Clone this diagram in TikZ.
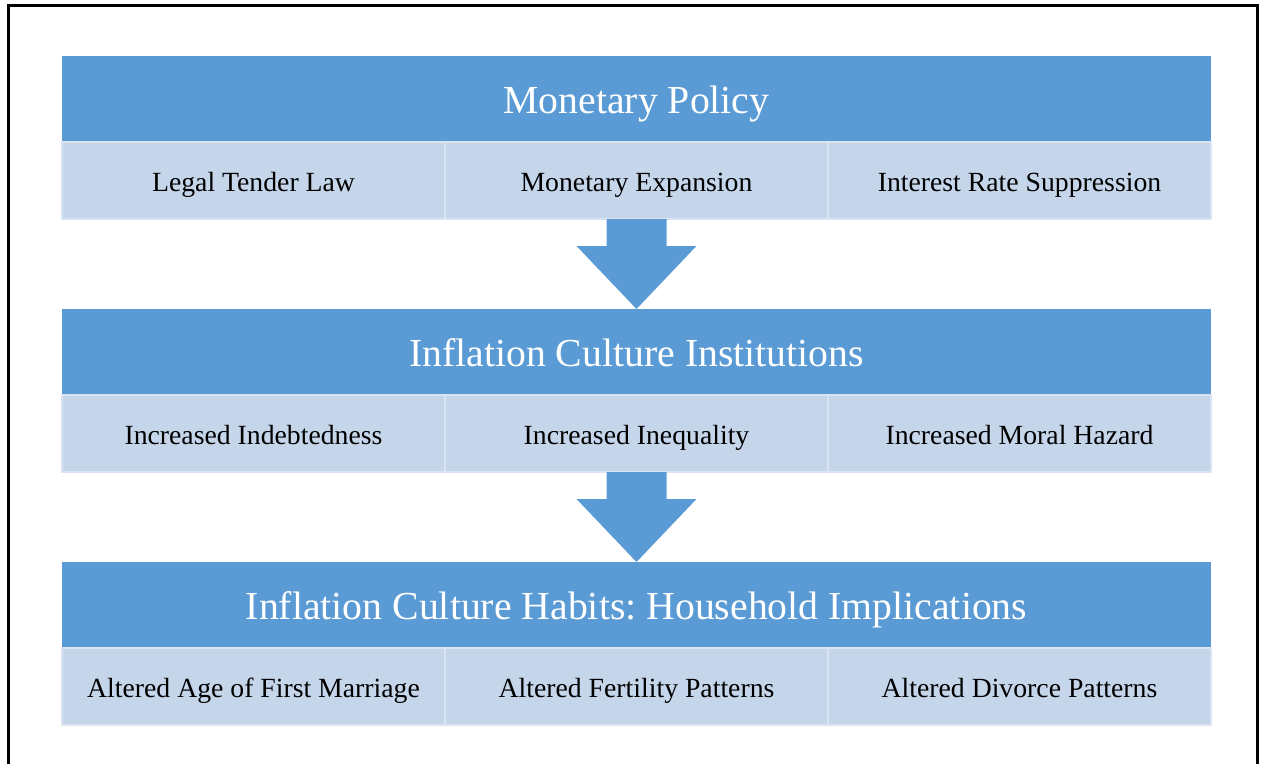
\documentclass[tikz,border=0pt]{standalone}
\usepackage{fontspec}
\setmainfont{Liberation Serif}
\usetikzlibrary{positioning,calc}
\frenchspacing

\definecolor{headcolor}{RGB}{91,155,213}
\definecolor{cellcolor}{RGB}{197,214,235}
\definecolor{celledge}{RGB}{218,228,242}

\begin{document}
\begin{tikzpicture}[x=0.75pt, y=-0.75pt, outer sep=0pt,
    head/.style = {fill=headcolor, text=white, minimum width=861.75pt, minimum height=64.5pt, inner sep=0pt, text height=27.7pt, text depth=6.3pt, font=\fontsize{29.8}{34}\selectfont},
    cell/.style = {fill=cellcolor, draw=celledge, line width=1.2pt, minimum width=287.25pt, minimum height=57.75pt, inner sep=0pt, text height=20pt, text depth=4.2pt, font=\fontsize{20.8}{24}\selectfont},
    blockarrow/.style = {fill=headcolor}]
		\useasboundingbox (0,0) rectangle (1265,764);
		\draw[line width=2.25pt] (8,764) -- (8,5) -- (1257,5) -- (1257,764);

		% first block
		\node[head, anchor=north] (Monetary) at (636.5,56) {Monetary Policy};
		\node[cell, below=0pt of Monetary] (Expansion) {Monetary Expansion};
		\node[cell, left=0pt of Expansion] (Tender) {Legal Tender Law};
		\node[cell, right=0pt of Expansion] (Suppression) {Interest Rate Suppression};

		% second block
		\node[head, below=67.5pt of Expansion] (Institutions) {Inflation Culture Institutions};
		\node[cell, below=0pt of Institutions] (Inequality) {Increased Inequality};
		\node[cell, left=0pt of Inequality] (Indebtedness) {Increased Indebtedness};
		\node[cell, right=0pt of Inequality] (Hazard) {Increased Moral Hazard};

		% third block
		\node[head, below=67.5pt of Inequality] (Habits) {Inflation Culture Habits: Household Implications};
		\node[cell, below=0pt of Habits] (Fertility) {Altered Fertility Patterns};
		\node[cell, left=0pt of Fertility] (Marriage) {Altered Age of First Marriage};
		\node[cell, right=0pt of Fertility] (Divorce) {Altered Divorce Patterns};

		\fill[blockarrow] ($(Expansion.south)+(-30,0)$) -- ($(Expansion.south)+(-30,27)$) -- ($(Expansion.south)+(-60,27)$) -- (Institutions.north) -- ($(Expansion.south)+(60,27)$) -- ($(Expansion.south)+(30,27)$) -- ($(Expansion.south)+(30,0)$) -- cycle;
		\fill[blockarrow] ($(Inequality.south)+(-30,0)$) -- ($(Inequality.south)+(-30,27)$) -- ($(Inequality.south)+(-60,27)$) -- (Habits.north) -- ($(Inequality.south)+(60,27)$) -- ($(Inequality.south)+(30,27)$) -- ($(Inequality.south)+(30,0)$) -- cycle;
	\end{tikzpicture}
\end{document}
